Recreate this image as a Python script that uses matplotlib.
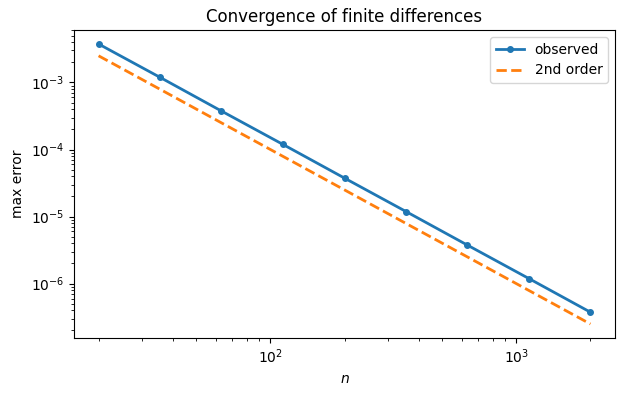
import numpy as np
import matplotlib
matplotlib.use("Agg")
import matplotlib.pyplot as plt

# grid sizes and errors
n = [20, 35.6, 63.2, 112.5, 200, 355.7, 632.5, 1124.7, 2000]
err_observed = [3.75e-3, 1.19e-3, 3.75e-4, 1.19e-4, 3.75e-5,
                1.19e-5, 3.75e-6, 1.19e-6, 3.75e-7]
err_ref = [2.5e-3, 7.9e-4, 2.5e-4, 7.9e-5, 2.5e-5,
           7.9e-6, 2.5e-6, 7.9e-7, 2.5e-7]

fig = plt.figure(figsize=(6.25, 3.96), dpi=100)
ax = fig.add_axes([74 / 625, 1 - 338 / 396, (615 - 74) / 625, (338 - 30) / 396])
ax.loglog(n, err_observed, "o-", lw=2, ms=4, label="observed")
ax.loglog(n, err_ref, "--", lw=2, label="2nd order")
ax.set_xlabel("$n$")
ax.set_ylabel("max error")
ax.set_title("Convergence of finite differences")
ax.legend()

fig.savefig("out.png")
